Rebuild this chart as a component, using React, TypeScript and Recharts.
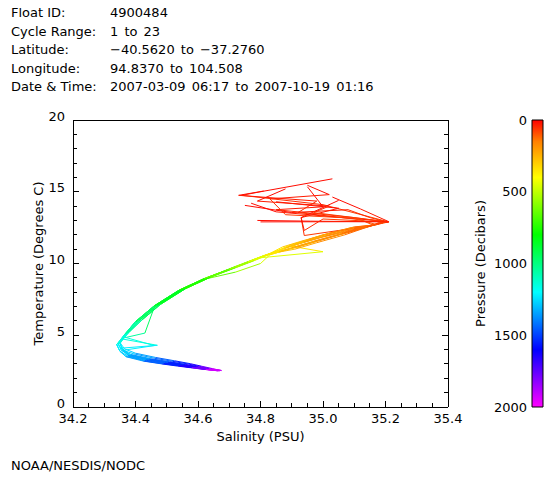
import React from "react";
import { LineChart, Line, XAxis, YAxis, BarChart, Bar } from "recharts";

// Header block
const headerLabels = ["Float ID:", "Cycle Range:", "Latitude:", "Longitude:", "Date & Time:"];
const headerValues = [
  "4900484",
  "1 to 23",
  "\u221240.5620 to \u221237.2760",
  "94.8370 to 104.508",
  "2007-03-09 06:17 to 2007-10-19 01:16",
];

// Axis ticks
const salinityTicks = [
  34.2, 34.25, 34.3, 34.35, 34.4, 34.45, 34.5, 34.55, 34.6, 34.65, 34.7, 34.75, 34.8,
  34.85, 34.9, 34.95, 35.0, 35.05, 35.1, 35.15, 35.2, 35.25, 35.3, 35.35, 35.4,
];
const temperatureTicks = [0, 1, 2, 3, 4, 5, 6, 7, 8, 9, 10, 11, 12, 13, 14, 15, 16, 17, 18, 19, 20];
const pressureTicks = [0, 500, 1000, 1500, 2000];

// Pressure levels (dbar) shared by all profiles
const pressureLevels = [
  5, 20, 40, 60, 75, 100, 150, 200, 250, 300, 400, 500, 600, 700, 800, 900, 1000, 1100,
  1200, 1250, 1300, 1400, 1500, 1600, 1700, 1850, 2000,
];

// Salinity / temperature per cycle
const sal01 = [35.03, 34.8, 34.74, 35.0, 35.21, 35.17, 35.09, 35.0, 34.93, 34.88, 34.83, 34.78, 34.72, 34.64, 34.56, 34.48, 34.42, 34.375, 34.35, 34.36, 34.385, 34.45, 34.51, 34.56, 34.6, 34.64, 34.675];
const temp01 = [15.9, 15.0, 14.75, 14.1, 12.9, 12.7, 12.45, 12.0, 11.5, 11.1, 10.65, 10.2, 9.7, 9.05, 8.25, 7.15, 6.05, 5.15, 4.45, 4.0, 3.62, 3.32, 3.12, 2.94, 2.8, 2.66, 2.54];

const sal02 = [34.95, 35.0, 34.85, 35.1, 35.2, 35.15, 35.06, 34.97, 34.9, 34.86, 34.81, 34.76, 34.7, 34.62, 34.54, 34.46, 34.4, 34.365, 34.34, 34.35, 34.37, 34.425, 34.485, 34.535, 34.575, 34.62, 34.665];
const temp02 = [15.35, 13.95, 13.75, 13.2, 12.9, 12.62, 12.05, 11.5, 11.05, 10.8, 10.5, 10.1, 9.6, 8.95, 8.15, 7.05, 5.95, 5.05, 4.35, 3.88, 3.5, 3.2, 3.0, 2.85, 2.74, 2.62, 2.52];

const sal03 = [35.03, 35.12, 35.21, 35.2, 35.18, 35.15, 35.07, 34.99, 34.93, 34.9, 35.0, 34.79, 34.72, 34.63, 34.55, 34.47, 34.41, 34.37, 34.345, 34.355, 34.38, 34.44, 34.5, 34.55, 34.59, 34.63, 34.665];
const temp03 = [14.63, 13.8, 12.92, 12.9, 12.8, 12.6, 12.35, 11.9, 11.45, 11.2, 10.82, 10.38, 9.75, 9.0, 8.2, 7.1, 6.0, 5.1, 4.4, 3.95, 3.6, 3.3, 3.1, 2.92, 2.78, 2.64, 2.55];

const sal04 = [34.81, 34.73, 34.98, 34.92, 35.12, 35.16, 35.09, 35.01, 34.93, 34.87, 34.83, 34.77, 34.71, 34.64, 34.56, 34.46, 34.43, 34.36, 34.345, 34.36, 34.395, 34.46, 34.52, 34.57, 34.605, 34.64, 34.675];
const temp04 = [15.05, 14.75, 14.35, 13.55, 13.05, 12.68, 12.5, 12.05, 11.55, 11.15, 10.7, 10.2, 9.7, 9.05, 8.25, 6.95, 5.15, 4.8, 4.35, 3.95, 3.7, 3.4, 3.18, 2.99, 2.83, 2.67, 2.55];

const sal05 = [34.85, 35.05, 34.93, 34.94, 35.05, 35.14, 35.08, 34.99, 34.92, 34.87, 34.82, 34.77, 34.71, 34.63, 34.55, 34.47, 34.41, 34.355, 34.47, 34.355, 34.38, 34.44, 34.5, 34.55, 34.59, 34.63, 34.665];
const temp05 = [14.3, 13.85, 13.2, 11.95, 12.3, 12.55, 12.2, 11.6, 11.15, 10.9, 10.6, 10.15, 9.65, 9.0, 8.2, 7.1, 6.0, 4.75, 4.3, 4.1, 3.6, 3.3, 3.1, 2.92, 2.78, 2.64, 2.53];

const sal06 = [34.77, 34.85, 35.21, 35.2, 35.19, 35.16, 35.09, 35.0, 34.92, 34.87, 34.82, 34.77, 34.71, 34.63, 34.55, 34.47, 34.41, 34.37, 34.35, 34.36, 34.38, 34.425, 34.485, 34.54, 34.58, 34.625, 34.67];
const temp06 = [14.2, 13.6, 12.92, 12.88, 12.85, 12.66, 12.3, 11.85, 11.35, 11.0, 10.62, 10.18, 9.68, 9.02, 8.22, 7.12, 6.02, 5.1, 4.4, 3.95, 3.55, 3.22, 3.02, 2.87, 2.74, 2.61, 2.52];

const sal07 = [34.8, 35.21, 35.21, 35.2, 35.19, 35.15, 35.07, 34.98, 34.91, 34.86, 34.83, 34.8, 34.72, 34.62, 34.54, 34.46, 34.4, 34.365, 34.34, 34.35, 34.375, 34.435, 34.495, 34.545, 34.585, 34.625, 34.66];
const temp07 = [12.9, 12.92, 12.9, 12.88, 12.85, 12.6, 12.0, 11.45, 11.0, 10.8, 10.6, 10.0, 9.4, 8.9, 8.1, 7.0, 5.9, 5.0, 4.35, 3.9, 3.55, 3.25, 3.05, 2.88, 2.75, 2.62, 2.55];

const sal08 = [35.05, 34.93, 34.94, 35.0, 35.2, 35.17, 35.1, 35.02, 34.95, 34.89, 34.84, 34.78, 34.72, 34.64, 34.56, 34.48, 34.42, 34.38, 34.35, 34.365, 34.4, 34.465, 34.525, 34.575, 34.61, 34.645, 34.675];
const temp08 = [14.4, 13.2, 12.3, 13.1, 12.9, 12.7, 12.55, 12.1, 11.65, 11.25, 10.75, 10.3, 9.8, 9.1, 8.3, 7.2, 6.1, 5.2, 4.5, 4.05, 3.75, 3.45, 3.22, 3.02, 2.85, 2.68, 2.54];

const sal09 = [34.75, 34.9, 35.08, 35.15, 35.2, 35.16, 35.08, 34.99, 34.91, 34.86, 34.81, 34.76, 34.7, 34.62, 34.54, 34.46, 34.4, 34.36, 34.46, 34.36, 34.375, 34.435, 34.495, 34.545, 34.585, 34.625, 34.66];
const temp09 = [14.05, 13.55, 13.75, 13.2, 12.92, 12.65, 12.15, 11.65, 11.15, 10.85, 10.55, 10.1, 9.6, 8.95, 8.15, 7.05, 5.95, 4.9, 4.28, 3.95, 3.6, 3.3, 3.08, 2.9, 2.77, 2.63, 2.53];

const sal10 = [34.88, 34.79, 35.02, 34.97, 35.19, 35.15, 35.07, 34.98, 34.91, 34.87, 34.82, 34.77, 34.71, 34.63, 34.55, 34.47, 34.41, 34.37, 34.345, 34.355, 34.385, 34.45, 34.51, 34.56, 34.6, 34.635, 34.67];
const temp10 = [15.2, 14.35, 14.0, 13.55, 12.95, 12.6, 12.25, 11.75, 11.3, 11.0, 10.6, 10.15, 9.65, 9.0, 8.2, 7.1, 6.0, 5.1, 4.4, 3.95, 3.66, 3.36, 3.15, 2.96, 2.81, 2.66, 2.55];

const sal11 = [34.95, 35.02, 34.83, 34.88, 35.1, 35.17, 35.1, 35.01, 34.94, 34.88, 34.83, 34.78, 34.72, 34.64, 34.56, 34.48, 34.42, 34.375, 34.35, 34.36, 34.385, 34.445, 34.505, 34.555, 34.595, 34.635, 34.67];
const temp11 = [15.45, 14.8, 14.5, 13.4, 13.15, 12.72, 12.45, 11.95, 11.5, 11.1, 10.68, 10.22, 9.72, 9.05, 8.25, 7.15, 6.05, 5.15, 4.45, 4.0, 3.62, 3.32, 3.1, 2.93, 2.79, 2.65, 2.53];

const sal12 = [34.79, 34.96, 35.21, 35.2, 35.17, 35.14, 35.06, 34.97, 34.9, 34.86, 34.81, 34.76, 34.7, 34.62, 34.54, 34.46, 34.4, 34.365, 34.34, 34.35, 34.37, 34.43, 34.49, 34.54, 34.58, 34.625, 34.665];
const temp12 = [13.0, 12.95, 12.9, 12.88, 12.75, 12.55, 12.1, 11.55, 11.1, 10.8, 10.55, 10.1, 9.6, 8.95, 8.15, 7.05, 5.95, 5.05, 4.35, 3.9, 3.52, 3.24, 3.04, 2.88, 2.76, 2.63, 2.52];

// colour table used for pressure (0 = red ... 2000 = magenta)
const colorStops: [number, number[]][] = [
  [0, [255, 0, 0]],
  [150, [255, 128, 0]],
  [400, [255, 255, 0]],
  [800, [0, 255, 0]],
  [1200, [0, 255, 255]],
  [1600, [0, 0, 255]],
  [2000, [255, 0, 255]],
];

const toHex = (c: number[]) =>
  "#" + c.map((v) => Math.round(v).toString(16).padStart(2, "0")).join("");

const pressureColor = (p: number) => {
  for (let i = 1; i < colorStops.length; i++) {
    const [p1, c1] = colorStops[i];
    const [p0, c0] = colorStops[i - 1];
    if (p <= p1) {
      const f = (p - p0) / (p1 - p0);
      return toHex(c0.map((v, k) => v + (c1[k] - v) * f));
    }
  }
  return toHex(colorStops[colorStops.length - 1][1]);
};

const profiles = [
  [sal01, temp01], [sal02, temp02], [sal03, temp03], [sal04, temp04],
  [sal05, temp05], [sal06, temp06], [sal07, temp07], [sal08, temp08],
  [sal09, temp09], [sal10, temp10], [sal11, temp11], [sal12, temp12],
];

// every profile is cut into short pieces so each can get its own pressure colour
const segments = profiles.flatMap(([sal, temp], k) =>
  pressureLevels.slice(1).map((p, i) => ({
    key: `c${k}-${i}`,
    color: pressureColor((pressureLevels[i] + p) / 2),
    data: [
      { s: sal[i], t: temp[i] },
      { s: sal[i + 1], t: temp[i + 1] },
    ],
  }))
);

const isMajorS = (v: number) => Math.round(v * 100) % 20 === 0;
const isMajorT = (v: number) => v % 5 === 0;
const FONT = 13;

const BottomTick = (props: any) => {
  const { x, y, payload } = props;
  const major = isMajorS(payload.value);
  return (
    <g>
      <line x1={x} y1={y} x2={x} y2={y - (major ? 6 : 4)} stroke="#000" shapeRendering="crispEdges" />
      {major && (
        <text x={x} y={y + 16} textAnchor="middle" fontSize={FONT} fill="#000">
          {payload.value.toFixed(1)}
        </text>
      )}
    </g>
  );
};

const TopTick = (props: any) => {
  const { x, y, payload } = props;
  const major = isMajorS(payload.value);
  return <line x1={x} y1={y} x2={x} y2={y + (major ? 6 : 4)} stroke="#000" shapeRendering="crispEdges" />;
};

const LeftTick = (props: any) => {
  const { x, y, payload } = props;
  const major = isMajorT(payload.value);
  return (
    <g>
      <line x1={x} y1={y} x2={x + (major ? 6 : 4)} y2={y} stroke="#000" shapeRendering="crispEdges" />
      {major && (
        <text x={x - 8} y={y} dy="0.05em" textAnchor="end" fontSize={FONT} fill="#000">
          {payload.value}
        </text>
      )}
    </g>
  );
};

const RightTick = (props: any) => {
  const { x, y, payload } = props;
  const major = isMajorT(payload.value);
  return <line x1={x} y1={y} x2={x - (major ? 6 : 4)} y2={y} stroke="#000" shapeRendering="crispEdges" />;
};

const axisLine = { stroke: "#000", shapeRendering: "crispEdges" };

export default function App() {
  return (
    <div
      style={{
        position: "relative",
        width: 560,
        height: 480,
        margin: -8,
        background: "#fff",
        fontFamily: "'DejaVu Sans', sans-serif",
        color: "#000",
      }}
    >
      <div style={{ position: "absolute", left: 11, top: 4, fontSize: FONT, lineHeight: "18.6px" }}>
        {headerLabels.map((l) => (
          <div key={l}>{l}</div>
        ))}
      </div>
      <div style={{ position: "absolute", left: 110, top: 4, fontSize: FONT, lineHeight: "18.6px", wordSpacing: 2 }}>
        {headerValues.map((v) => (
          <div key={v}>{v}</div>
        ))}
      </div>

      <div style={{ position: "absolute", left: 0, top: 0 }}>
        <LineChart width={560} height={480} margin={{ top: 119, right: 111, bottom: 38, left: 33 }}>
          <XAxis
            type="number"
            dataKey="s"
            domain={[34.2, 35.4]}
            ticks={salinityTicks}
            interval={0}
            height={35}
            tickSize={0}
            tickMargin={0}
            tickLine={false}
            tick={<BottomTick />}
            axisLine={axisLine}
            allowDataOverflow
            label={{ value: "Salinity (PSU)", position: "insideBottom", offset: 1, fontSize: FONT, fill: "#000" }}
          />
          <XAxis
            xAxisId="top"
            orientation="top"
            type="number"
            domain={[34.2, 35.4]}
            ticks={salinityTicks}
            interval={0}
            height={1}
            tickSize={0}
            tickMargin={0}
            tickLine={false}
            tick={<TopTick />}
            axisLine={axisLine}
            allowDataOverflow
          />
          <YAxis
            type="number"
            dataKey="t"
            domain={[0, 20]}
            ticks={temperatureTicks}
            interval={0}
            width={40}
            tickSize={0}
            tickMargin={0}
            tickLine={false}
            tick={<LeftTick />}
            axisLine={axisLine}
            allowDataOverflow
            label={{
              value: "Temperature (Degrees C)",
              angle: -90,
              position: "insideLeft",
              offset: 5,
              fontSize: FONT,
              fill: "#000",
              style: { textAnchor: "middle" },
            }}
          />
          <YAxis
            yAxisId="right"
            orientation="right"
            type="number"
            domain={[0, 20]}
            ticks={temperatureTicks}
            interval={0}
            width={1}
            tickSize={0}
            tickMargin={0}
            tickLine={false}
            tick={<RightTick />}
            axisLine={axisLine}
            allowDataOverflow
          />
          {segments.map((seg) => (
            <Line
              key={seg.key}
              data={seg.data}
              dataKey="t"
              stroke={seg.color}
              strokeWidth={1}
              dot={false}
              activeDot={false}
              isAnimationActive={false}
            />
          ))}
        </LineChart>
      </div>

      {/* pressure colour bar */}
      <div style={{ position: "absolute", left: 460, top: 0 }}>
        <BarChart
          width={100}
          height={480}
          data={[{ name: "pressure", p: 2000 }]}
          margin={{ top: 120, right: 17, bottom: 73, left: 0 }}
          barCategoryGap={0}
        >
          <defs>
            <linearGradient id="pressureGradient" x1="0" y1="0" x2="0" y2="1">
              {colorStops.map(([p, c]) => (
                <stop key={p} offset={p / 2000} stopColor={toHex(c)} />
              ))}
            </linearGradient>
          </defs>
          <XAxis dataKey="name" hide />
          <YAxis
            type="number"
            domain={[0, 2000]}
            reversed
            ticks={pressureTicks}
            interval={0}
            width={72}
            tickSize={0}
            tickMargin={5}
            tickLine={false}
            axisLine={false}
            tick={{ fontSize: FONT, fill: "#000" }}
            label={{
              value: "Pressure (Decibars)",
              angle: -90,
              position: "insideLeft",
              offset: 20,
              fontSize: FONT,
              fill: "#000",
              style: { textAnchor: "middle" },
            }}
          />
          <Bar dataKey="p" fill="url(#pressureGradient)" stroke="#000" isAnimationActive={false} />
        </BarChart>
      </div>

      <div style={{ position: "absolute", left: 11, top: 458, fontSize: FONT, lineHeight: "16px" }}>
        NOAA/NESDIS/NODC
      </div>
    </div>
  );
}
